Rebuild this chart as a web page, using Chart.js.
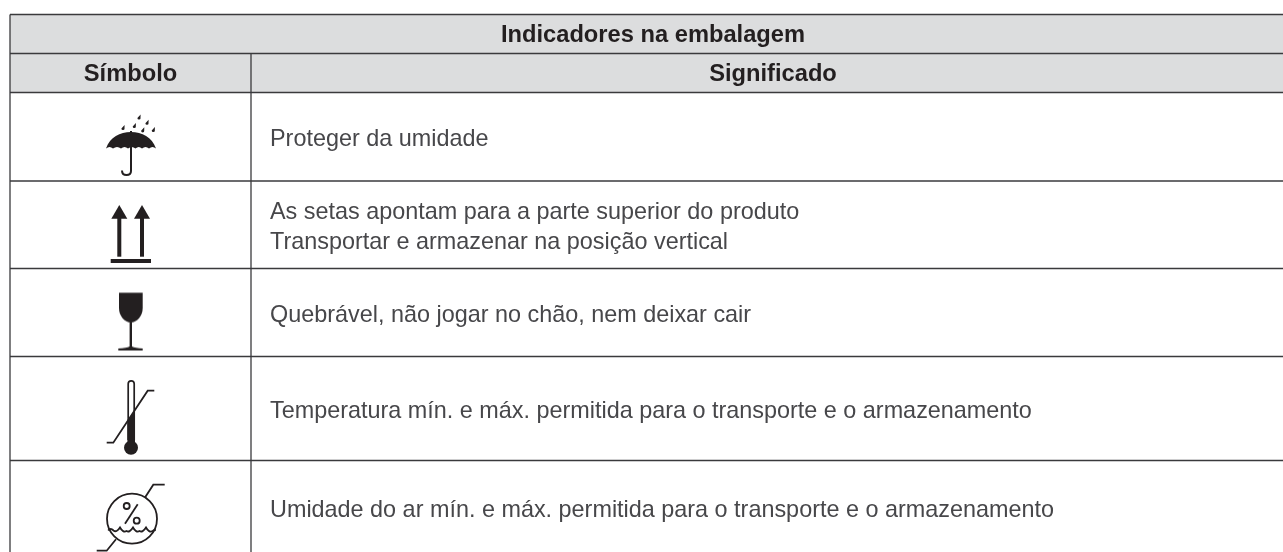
<!DOCTYPE html>
<html><head><meta charset="utf-8">
<style>html,body{margin:0;padding:0;background:#fff}canvas{display:block}</style>
<script src="https://cdn.jsdelivr.net/npm/chart.js@4"></script></head>
<body><canvas id="c" width="1283" height="552" style="width:1283px;height:552px"></canvas>
<script>
const tableTitle = "Indicadores na embalagem";
const columnHeaders = ["Símbolo", "Significado"];
const symbols = ["umbrella", "arrows", "glass", "thermometer", "humidity"];
const meanings = [
  ["Proteger da umidade"],
  ["As setas apontam para a parte superior do produto", "Transportar e armazenar na posição vertical"],
  ["Quebrável, não jogar no chão, nem deixar cair"],
  ["Temperatura mín. e máx. permitida para o transporte e o armazenamento"],
  ["Umidade do ar mín. e máx. permitida para o transporte e o armazenamento"]
];

// layout (page geometry, separate from content)
const L = {left:10, col:251, right:1283, top:14.5, title:53.5, head:92.5, rows:[92.5,181,268.5,356.5,460.5,554],
           textX:270, symbolX:131, symbolY:[143,234,320.5,416,518]};
const INK = "#231f20";

function icon(w,h,fn){
  const cv=document.createElement("canvas");cv.width=w;cv.height=h;
  const g=cv.getContext("2d");g.strokeStyle=INK;g.fillStyle=INK;g.lineCap="butt";g.lineJoin="miter";
  fn(g);return cv;
}
function poly(g,p,fill){g.beginPath();p.forEach((q,i)=>i?g.lineTo(q[0],q[1]):g.moveTo(q[0],q[1]));fill?g.fill():g.stroke();}
// icon drawings are relative to an 80x80 box centred on the symbol anchor
const icons = {
  umbrella: icon(80,80,g=>{
    g.translate(-91,-103);
    g.beginPath();g.moveTo(106,148.5);g.bezierCurveTo(110,137,120,132,131,132);g.bezierCurveTo(142,132,152,137,156,148.5);
    const xs=[156,149,142,135.5,128,121,113,106];
    for(let i=0;i<7;i++){g.quadraticCurveTo((xs[i]+xs[i+1])/2,145.5,xs[i+1],148.5);}
    g.fill();
    g.lineWidth=2;g.beginPath();g.moveTo(131,131);g.lineTo(131,171);g.quadraticCurveTo(131,175,126.5,175);g.quadraticCurveTo(122,175,122,170.5);g.stroke();
    [[139,117.5],[147,122.7],[134.3,126],[123,128],[142.7,130.3],[153.3,130]].forEach(d=>{
      g.beginPath();g.moveTo(d[0]+1.6,d[1]-3);g.lineTo(d[0]+1.5,d[1]+0.5);g.arc(d[0],d[1]+0.5,1.6,0,Math.PI);g.closePath();g.fill();});
  }),
  arrows: icon(80,80,g=>{
    g.translate(-91,-194);
    [119.3,142].forEach(x=>{poly(g,[[x,205],[x+8,218.7],[x-8,218.7]],true);g.fillRect(x-2,218,4,38.7);});
    g.fillRect(110.7,259,40.3,4);
  }),
  glass: icon(80,80,g=>{
    g.translate(-91,-280.5);
    g.beginPath();g.moveTo(119,292.7);g.lineTo(142.7,292.7);g.lineTo(142.7,308);g.bezierCurveTo(142.7,316,137,322.5,130.8,322.5);g.bezierCurveTo(124.6,322.5,119,316,119,308);g.closePath();g.fill();
    g.fillRect(129.6,322,2.4,26);
    g.beginPath();g.moveTo(118.3,348.5);g.quadraticCurveTo(127,348,129.6,346.5);g.lineTo(132,346.5);g.quadraticCurveTo(135,348,142.7,348.5);g.lineTo(142.7,350.5);g.lineTo(118.3,350.5);g.closePath();g.fill();
  }),
  thermometer: icon(80,80,g=>{
    g.translate(-91,-376);
    g.lineWidth=1.7;
    g.beginPath();g.moveTo(128.2,440);g.lineTo(128.2,383.8);g.arc(131.2,383.8,3,Math.PI,0);g.lineTo(134.2,440);g.stroke();
    poly(g,[[127.4,421.5],[135,410.5],[135,445],[127.4,445]],true);
    g.beginPath();g.arc(131,447.7,7,0,Math.PI*2);g.fill();
    g.lineWidth=1.8;
    poly(g,[[154.3,390.7],[147.7,390.7],[113.3,442.7],[106.7,442.7]]);
  }),
  humidity: icon(80,80,g=>{
    g.translate(-91,-478);
    g.lineWidth=1.8;
    g.beginPath();g.arc(132,518.7,25,0,Math.PI*2);g.stroke();
    poly(g,[[164.7,484.7],[153.3,484.7],[145,497.5]]);
    poly(g,[[96.7,550.7],[106.7,550.7],[116,539.3]]);
    poly(g,[[137.7,504.3],[125,523.7]]);
    g.beginPath();g.arc(126.7,506,3,0,Math.PI*2);g.stroke();
    g.beginPath();g.arc(136.7,520.7,3,0,Math.PI*2);g.stroke();
    g.beginPath();g.moveTo(108.2,530.5);
    g.quadraticCurveTo(110.5,527.5,113.5,530.5);
    g.quadraticCurveTo(116.5,533,120,527.5);
    g.quadraticCurveTo(123,533,126.5,531);
    g.quadraticCurveTo(129.5,533,133,527.5);
    g.quadraticCurveTo(136,533,139.5,531);
    g.quadraticCurveTo(142.5,533,146,527.5);
    g.quadraticCurveTo(149,533,152.5,531);
    g.quadraticCurveTo(154,530,155.8,530);
    g.stroke();
  })
};

const tablePlugin = {
  id:"table",
  beforeDatasetsDraw(ch){
    const g=ch.ctx,X=v=>ch.scales.x.getPixelForValue(v),Y=v=>ch.scales.y.getPixelForValue(v);
    g.save();
    g.fillStyle="#dcddde";g.fillRect(X(L.left),Y(L.top),X(L.right)-X(L.left),Y(L.head)-Y(L.top));
    const line=(x1,y1,x2,y2,c,w)=>{g.strokeStyle=c;g.lineWidth=w;g.beginPath();g.moveTo(X(x1),Y(y1));g.lineTo(X(x2),Y(y2));g.stroke();};
    const c="#3a3a3c";
    [L.top,L.title,...L.rows.slice(0,-1)].forEach(y=>line(L.left,y,L.right,y,c,1.4));
    line(L.left,L.top,L.left,552,c,1.3);
    line(L.col,L.title,L.col,552,c,1.3);
    g.textBaseline="alphabetic";
    g.fillStyle="#231f20";g.font="bold 23.7px 'Liberation Sans'";g.textAlign="center";
    g.fillText(tableTitle,X(653),Y(42.3));
    g.fillText(columnHeaders[0],X(130.5),Y(81.3));
    g.fillText(columnHeaders[1],X(773),Y(81.3));
    g.fillStyle="#47474a";g.font="23.4px 'Liberation Sans'";g.textAlign="left";
    meanings.forEach((m,i)=>{
      const mid=(L.rows[i]+L.rows[i+1])/2,lh=29.4;
      m.forEach((t,k)=>g.fillText(t,X(L.textX),Y(mid+9.4+(k-(m.length-1)/2)*lh)));
    });
    g.restore();
  }
};

new Chart(document.getElementById("c"),{
  type:"scatter",
  data:{datasets:[{
    label:"Símbolo",
    data:symbols.map((s,i)=>({x:L.symbolX,y:L.symbolY[i]})),
    pointStyle:symbols.map(s=>icons[s]),
    pointRadius:40,hoverRadius:40,clip:false
  }]},
  options:{
    responsive:false,animation:false,
    layout:{padding:0,autoPadding:false},
    plugins:{legend:{display:false},tooltip:{enabled:false},title:{display:false}},
    scales:{
      x:{type:"linear",min:0,max:1283,display:false},
      y:{type:"linear",min:0,max:552,reverse:true,display:false}
    }
  },
  plugins:[tablePlugin]
});
</script></body></html>
